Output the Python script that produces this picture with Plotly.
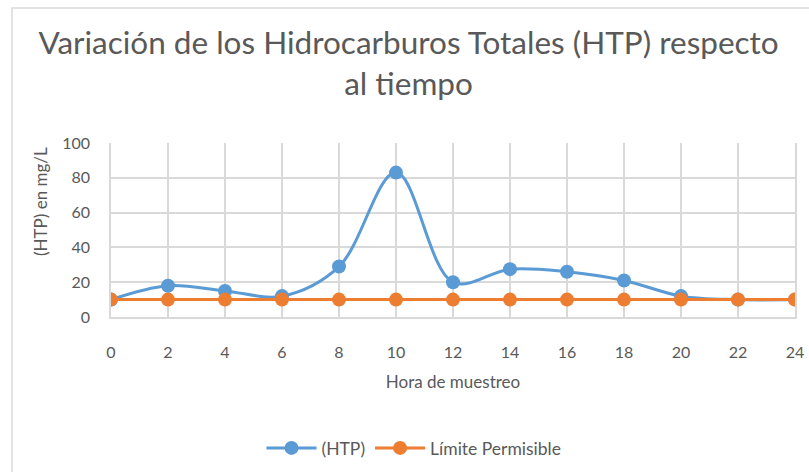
import plotly.graph_objects as go

horas = [0, 2, 4, 6, 8, 10, 12, 14, 16, 18, 20, 22, 24]
htp = [10, 18, 15, 12, 29, 83, 20, 27.5, 26, 21, 12, 10, 10]
limite = [10, 10, 10, 10, 10, 10, 10, 10, 10, 10, 10, 10, 10]

FONT = "Lato"
GRAY = "#595959"
GRID = "#d9d9d9"

fig = go.Figure()
fig.add_trace(go.Scatter(
    x=horas, y=htp, name="(HTP)", mode="lines+markers",
    line=dict(color="#5b9bd5", width=3, shape="spline", smoothing=1),
    marker=dict(color="#5b9bd5", size=14),
))
fig.add_trace(go.Scatter(
    x=horas, y=limite, name="Límite Permisible", mode="lines+markers",
    line=dict(color="#ed7d31", width=3),
    marker=dict(color="#ed7d31", size=14),
))

PW, PH = 684, 174

fig.update_layout(
    width=809, height=472,
    margin=dict(l=111, r=14, t=143, b=155, autoexpand=False),
    paper_bgcolor="white", plot_bgcolor="white",
    font=dict(family=FONT, color=GRAY),
    title=dict(
        text="Variación de los Hidrocarburos Totales (HTP) respecto<br>al tiempo",
        x=0.505, xanchor="center", y=1 - 54 / 472, yanchor="top",
        font=dict(family=FONT, size=31.5, color=GRAY),
    ),
    xaxis=dict(
        range=[0, 24], tickvals=horas, ticktext=[str(h) for h in horas],
        showgrid=True, gridcolor=GRID, gridwidth=1.5,
        showline=True, linecolor=GRID, linewidth=1.5,
        zeroline=False, ticks="", ticklabelstandoff=20, automargin=False,
        tickfont=dict(size=16, color=GRAY),
        title=dict(text="Hora de muestreo", font=dict(size=17, color=GRAY), standoff=16),
    ),
    yaxis=dict(
        range=[0, 100], dtick=20,
        showgrid=True, gridcolor=GRID, gridwidth=1.5,
        showline=True, linecolor=GRID, linewidth=1.5, mirror=True,
        zeroline=False, ticks="", ticklabelstandoff=16, automargin=False,
        tickfont=dict(size=16, color=GRAY),
    ),
    legend=dict(
        orientation="h", x=(414 - 111) / PW, xanchor="center",
        y=-(448 - 317) / PH, yanchor="middle",
        font=dict(size=17.5, color=GRAY), itemwidth=50,
    ),
    showlegend=True,
    annotations=[dict(
        text="(HTP) en mg/L", xref="paper", yref="paper",
        x=-(111 - 40) / PW, y=(317 - 202) / PH, xanchor="center", yanchor="middle",
        textangle=-90, showarrow=False, font=dict(size=17, color=GRAY),
    )],
    shapes=[dict(
        type="rect", xref="paper", yref="paper",
        x0=-(111 - 12) / PW, x1=1.1, y0=-1.0, y1=1 + 135 / PH,
        line=dict(color=GRID, width=1.5), fillcolor="rgba(0,0,0,0)", layer="below",
    )],
)

fig.write_html("out.html", config={"displayModeBar": False},
               post_script="document.body.style.margin='0';")
